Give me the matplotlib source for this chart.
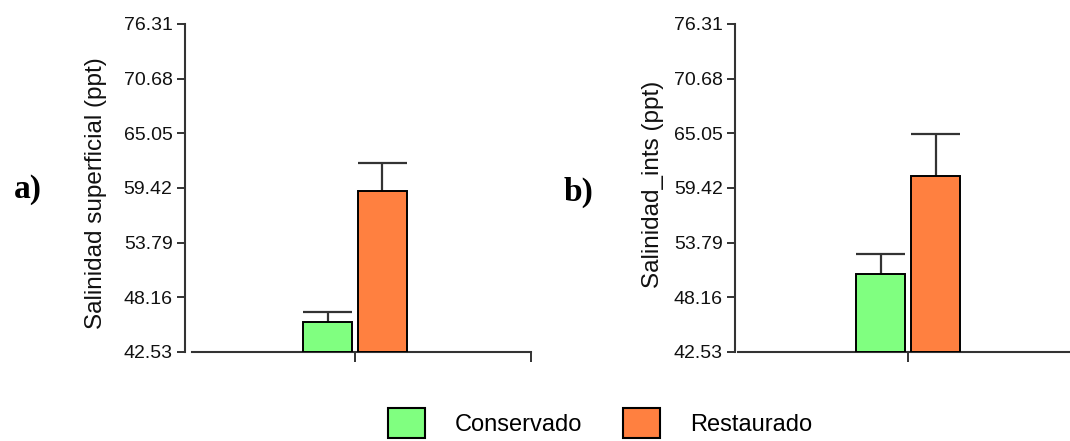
import matplotlib
matplotlib.use("Agg")
import matplotlib.pyplot as plt
from matplotlib.patches import Patch

# Salinity (ppt) by site condition, mean and upper error
groups = ["Conservado", "Restaurado"]
colors = ["#80FF80", "#FF8040"]

surface_mean = [45.62, 59.11]
surface_err = [1.03, 2.88]

interstitial_mean = [50.56, 60.66]
interstitial_err = [2.06, 4.32]

ytick_values = [42.53, 48.16, 53.79, 59.42, 65.05, 70.68, 76.31]
ytick_labels = ["42.53", "48.16", "53.79", "59.42", "65.05", "70.68", "76.31"]

W, H = 1070, 441
plt.rcParams["font.family"] = ["Liberation Sans", "DejaVu Sans"]
fig = plt.figure(figsize=(W / 100, H / 100), dpi=100)

SPINE = "#333333"
ax_bottom = 1 - 352 / H
ax_height = (352 - 24) / H
BAR_W = 0.278


def panel(left_px, right_px, xlim, xticks, spine_offset, means, errs,
          ylabel, ylabel_x, ylabel_y):
    ax = fig.add_axes([left_px / W, ax_bottom, (right_px - left_px) / W, ax_height])
    offsets = [-0.156, 0.156]
    base = ytick_values[0]
    for off, m, e, c in zip(offsets, means, errs, colors):
        ax.bar(off, m - base, bottom=base, width=BAR_W,
               color=c, edgecolor="black", linewidth=1.4, zorder=3)
        # upper error bar only: stem plus cap as wide as the bar
        ax.vlines(off, m, m + e, color=SPINE, linewidth=1.6, zorder=2)
        ax.hlines(m + e, off - BAR_W / 2, off + BAR_W / 2, color=SPINE,
                  linewidth=1.6, zorder=2)
    ax.set_ylim(base, ytick_values[-1])
    ax.set_xlim(*xlim)
    ax.set_yticks(ytick_values)
    ax.set_yticklabels(ytick_labels)
    ax.set_xticks(xticks)
    ax.set_xticklabels([""] * len(xticks))
    ax.tick_params(axis="y", length=6, width=1.4, color=SPINE, pad=3,
                   labelsize=14, labelcolor="#111111")
    ax.tick_params(axis="x", length=7, width=1.4, color=SPINE)
    for s in ["top", "right"]:
        ax.spines[s].set_visible(False)
    for s in ["left", "bottom"]:
        ax.spines[s].set_linewidth(1.5)
        ax.spines[s].set_color(SPINE)
    ax.spines["left"].set_position(("outward", spine_offset))
    ax.patch.set_alpha(0)
    fig.text(ylabel_x / W, 1 - ylabel_y / H, ylabel, rotation=90, ha="center",
             va="center", fontsize=17.5, color="#111111")
    return ax


panel(192, 531, (-0.926, 1.0), [0, 1], 5, surface_mean, surface_err,
      "Salinidad superficial (ppt)", 96, 193)
panel(738, 1070, (-0.966, 0.92), [0], 2, interstitial_mean, interstitial_err,
      "Salinidad_ints (ppt)", 653, 184)

# Panel letters
fig.text(28 / W, 1 - 190 / H, "a)", fontsize=24, fontweight="bold",
         family="Liberation Serif", ha="center", va="center")
fig.text(579 / W, 1 - 192 / H, "b)", fontsize=24, fontweight="bold",
         family="Liberation Serif", ha="center", va="center")

handles = [Patch(facecolor=c, edgecolor="black", linewidth=1.5, label=g)
           for g, c in zip(groups, colors)]
fig.legend(handles=handles, loc="upper left", bbox_to_anchor=(388 / W, 1 - 408 / H),
           ncol=2, frameon=False, fontsize=17, handlelength=1.57, handleheight=1.57,
           handletextpad=1.27, columnspacing=1.7, borderpad=0, borderaxespad=0)

fig.savefig("out.png", dpi=100)
